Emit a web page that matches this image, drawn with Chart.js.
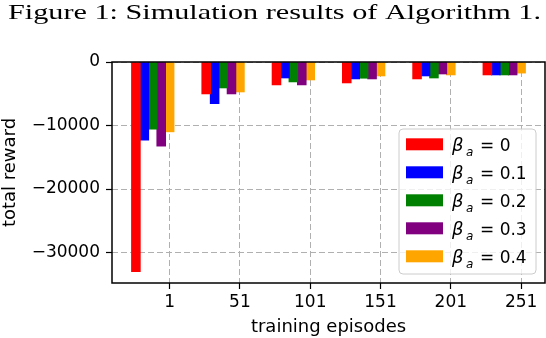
<!DOCTYPE html>
<html>
<head>
<meta charset="utf-8">
<script src="https://cdn.jsdelivr.net/npm/chart.js@4"></script>
<style>
  html, body { margin: 0; padding: 0; background: #fff; }
</style>
</head>
<body>
<canvas id="chart" width="546" height="338"></canvas>
<script>
// values
const episodes = [1, 51, 101, 151, 201, 251];
const betas = [0, 0.1, 0.2, 0.3, 0.4];
const colors = ['#ff0000', '#0000ff', '#008000', '#800080', '#ffa500'];
const reward00 = [-33000, -5030, -3610, -3300, -2670, -2040];
const reward01 = [-12310, -6560, -2520, -2670, -2200, -2040];
const reward02 = [-10580, -4090, -3140, -2560, -2520, -2040];
const reward03 = [-13250, -5030, -3610, -2670, -1890, -2040];
const reward04 = [-11000, -4720, -2830, -2200, -2040, -1750];
const yTicks = [0, -10000, -20000, -30000];
const barStep = 6; // bar width in episodes, last bar sits on the tick

const series = [reward00, reward01, reward02, reward03, reward04];

const datasets = series.map((vals, i) => ({
  label: 'βa = ' + betas[i],
  data: vals.map((v, j) => ({ x: episodes[j] + (i - (series.length - 1)) * barStep, y: v })),
  backgroundColor: colors[i],
  borderWidth: 0,
  grouped: false,
  barThickness: 8.9, // a hair wider than the step so neighbours touch without seams
  barPercentage: 1,
  categoryPercentage: 1
}));

const tickFont = { family: 'DejaVu Sans', size: 17 };
const titleFont = { family: 'DejaVu Sans', size: 18 };

const decor = {
  id: 'decor',
  afterDraw(chart) {
    const ctx = chart.ctx;
    const a = chart.chartArea;
    ctx.save();
    // caption
    ctx.fillStyle = '#000';
    ctx.font = '22px "Liberation Serif"';
    ctx.textBaseline = 'alphabetic';
    const cap = 'Figure 1: Simulation results of Algorithm 1.';
    const w = ctx.measureText(cap).width;
    const sx = 533 / w;
    ctx.save();
    ctx.translate(8, 18.5);
    ctx.scale(sx, 1);
    ctx.fillText(cap, 0, 0);
    ctx.restore();

    // frame
    ctx.strokeStyle = '#000';
    ctx.lineWidth = 1.5;
    ctx.strokeRect(a.left, a.top, a.right - a.left, a.bottom - a.top);

    // legend
    const bx = 399, by = 129, bw = 137, bh = 145, r = 4;
    ctx.beginPath();
    ctx.moveTo(bx + r, by);
    ctx.arcTo(bx + bw, by, bx + bw, by + bh, r);
    ctx.arcTo(bx + bw, by + bh, bx, by + bh, r);
    ctx.arcTo(bx, by + bh, bx, by, r);
    ctx.arcTo(bx, by, bx + bw, by, r);
    ctx.closePath();
    ctx.fillStyle = 'rgba(255,255,255,0.8)';
    ctx.fill();
    ctx.strokeStyle = '#cccccc';
    ctx.lineWidth = 1;
    ctx.stroke();
    chart.data.datasets.forEach((ds, i) => {
      const cy = 144.3 + i * 28;
      ctx.fillStyle = ds.backgroundColor;
      ctx.fillRect(406, cy - 6, 37, 12);
      ctx.fillStyle = '#000';
      const base = cy + 6.5;
      ctx.font = 'italic 18px "DejaVu Sans"';
      ctx.fillText('β', 452, base);
      ctx.font = 'italic 12px "DejaVu Sans"';
      ctx.fillText('a', 466, base + 5);
      ctx.font = '17px "DejaVu Sans"';
      ctx.fillText('= ' + betas[i], 480, base);
    });
    ctx.restore();
  }
};

new Chart(document.getElementById('chart'), {
  type: 'bar',
  data: { datasets },
  options: {
    responsive: false,
    animation: false,
    layout: { padding: { top: 62, right: 1, left: 0, bottom: 0 } },
    plugins: { legend: { display: false }, tooltip: { enabled: false } },
    scales: {
      x: {
        type: 'linear',
        min: -40,
        max: 268,
        bounds: 'data',
        offset: false,
        z: 1,
        afterBuildTicks: s => { s.ticks = episodes.map(v => ({ value: v })); },
        afterFit: s => { s.height = 55; },
        grid: { offset: false, color: '#b0b0b0', lineWidth: 1, tickLength: 6, tickColor: '#000', tickWidth: 1.2 },
        border: { display: false, dash: [6, 3] },
        ticks: { color: '#000', font: tickFont, padding: 3, maxRotation: 0, autoSkip: false, callback: v => String(v) },
        title: { display: true, text: 'training episodes', color: '#000', font: titleFont, padding: { top: 0, bottom: 0 } }
      },
      y: {
        min: -34800,
        max: 0,
        z: 1,
        afterBuildTicks: s => { s.ticks = yTicks.map(v => ({ value: v })); },
        afterFit: s => { s.width = 112; },
        grid: { color: '#b0b0b0', lineWidth: 1, tickLength: 6, tickColor: '#000', tickWidth: 1.2 },
        border: { display: false, dash: [6, 3] },
        ticks: { color: '#000', font: tickFont, padding: 6, callback: v => v < 0 ? '\u2212' + Math.abs(v) : String(v) },
        title: { display: true, text: 'total reward', color: '#000', font: titleFont, padding: { top: 0, bottom: 0 } }
      }
    }
  },
  plugins: [decor]
});
</script>
</body>
</html>
